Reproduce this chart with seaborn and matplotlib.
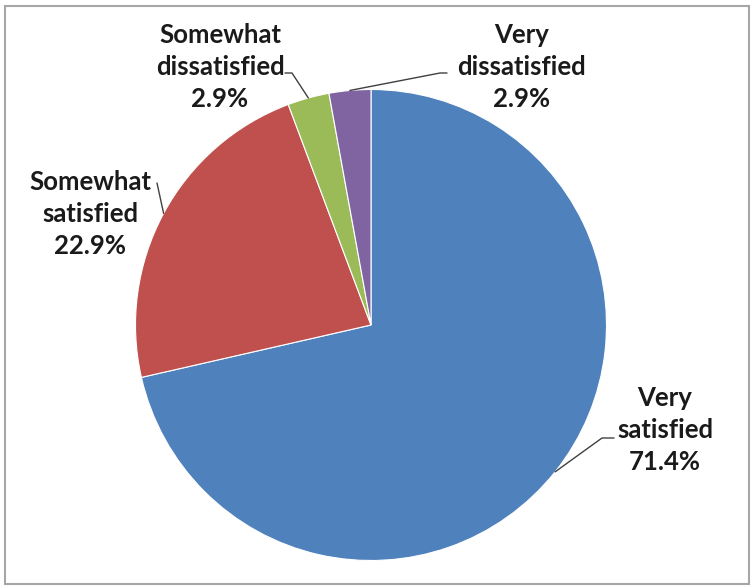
import numpy as np
import matplotlib.pyplot as plt
import seaborn as sns
from matplotlib.patches import Rectangle

# Survey responses (counts out of 35)
categories = ["Very satisfied", "Somewhat satisfied", "Somewhat dissatisfied", "Very dissatisfied"]
counts = [25, 8, 1, 1]
colors = ["#4F81BD", "#C0504D", "#9BBB59", "#8064A2"]

sns.set_theme(style="white")
plt.rcParams["font.family"] = ["Lato", "DejaVu Sans"]

W, H = 754, 588
CX, CY, R = 371, 325, 235.5  # pie centre / radius in pixels


def px(x, y):
    # pixel position -> data coords (pie radius = 1)
    return (x - CX) / R, (CY - y) / R


fig = plt.figure(figsize=(W / 100, H / 100), dpi=100)
ax = fig.add_axes([0, 0, 1, 1])
ax.pie(counts, colors=colors, startangle=90, counterclock=False, radius=1,
       wedgeprops=dict(edgecolor="white", linewidth=0.8))
x0, y0 = px(0, H)
x1, y1 = px(W, 0)
ax.set_xlim(x0, x1)
ax.set_ylim(y0, y1)
ax.set_aspect("equal")
ax.axis("off")

# label centre (pixels) and leader start (pixels) for each slice
label_pos = [(665, 430), (90, 214), (220, 67), (522, 67)]
leader_start = [(614, 438), (157, 183), (285, 73), (447, 73)]
leader_knee = [(602, 438), (157, 183), (292, 73), (440, 73)]

total = sum(counts)
cum = np.cumsum([0] + counts)
for i, name in enumerate(categories):
    pct = 100 * counts[i] / total
    words = name.split(" ")
    txt = f"{words[0]}\n{words[1]}\n{pct:.1f}%"
    lx, ly = px(*label_pos[i])
    ax.text(lx, ly, txt, ha="center", va="center", fontsize=18.5, fontweight="bold",
            color="#1a1a1a", linespacing=1.38)
    mid = np.deg2rad(90 - 360 * (cum[i] + counts[i] / 2) / total)
    ex, ey = np.cos(mid), np.sin(mid)
    sx, sy = px(*leader_start[i])
    kx, ky = px(*leader_knee[i])
    ax.plot([sx, kx, ex], [sy, ky, ey], color="#404040", lw=1)

fig.patches.append(Rectangle((5 / W, 4 / H), 744 / W, 578 / H, transform=fig.transFigure,
                             fill=False, edgecolor="#a6a6a6", linewidth=1.5))
fig.savefig("out.png", dpi=100, facecolor="white")
